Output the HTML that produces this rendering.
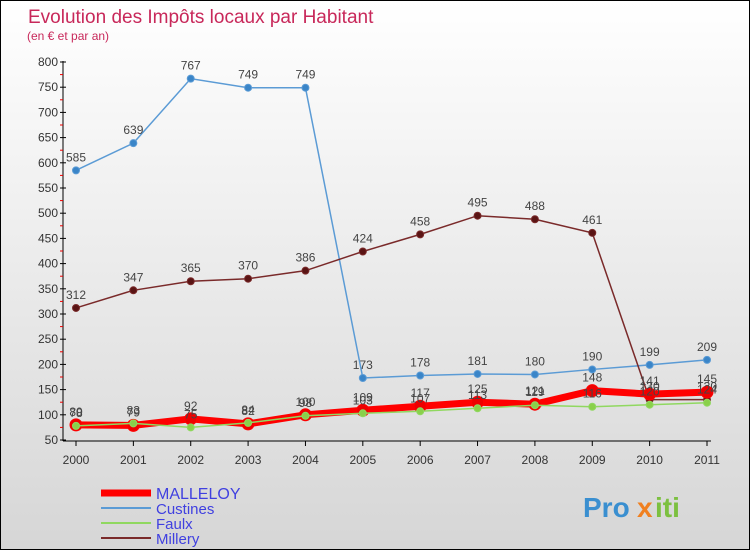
<!DOCTYPE html>
<html><head><meta charset="utf-8"><style>
body{margin:0}
#c{width:748px;height:548px;border:1px solid #000;position:relative;background:linear-gradient(#fff,#d6d6d6);font-family:"Liberation Sans",sans-serif;overflow:hidden}
</style></head><body>
<div id="c">
<svg id="s" width="748" height="548"></svg>
</div>
<script>
const years=[2000,2001,2002,2003,2004,2005,2006,2007,2008,2009,2010,2011];
const malleloy=[80,79,92,82,100,109,117,125,121,148,141,145];
const custines=[585,639,767,749,749,173,178,181,180,190,199,209];
const faulx=[78,83,75,84,98,103,107,113,119,116,120,124];
const millery=[312,347,365,370,386,424,458,495,488,461,130,130];
const yTicks=[50,100,150,200,250,300,350,400,450,500,550,600,650,700,750,800];
const NS='http://www.w3.org/2000/svg';
const s=document.getElementById('s');
const X=i=>75+i*(631/11);
const Y=v=>439-(v-50)*378/750;
function el(t,a,txt){const e=document.createElementNS(NS,t);for(const k in a)e.setAttribute(k,a[k]);if(txt!==undefined)e.textContent=txt;s.appendChild(e);return e;}
let e;
e=el('text',{x:27,y:22,'font-size':19,fill:'#c8285a'},'Evolution des Impôts locaux par Habitant');

e=el('text',{x:26,y:39,'font-size':12,fill:'#c8285a'},'(en € et par an)');

e=el('line',{x1:62,y1:60,x2:62,y2:440,stroke:'#000'});

e=el('line',{x1:62,y1:440,x2:710,y2:440,stroke:'#000'});

yTicks.forEach(v=>{
  e=el('line',{x1:59,y1:Y(v),x2:65,y2:Y(v),stroke:'#000'});
  
  e=el('text',{x:57,y:Y(v)+4,'font-size':12,fill:'#333','text-anchor':'end'},v);
  
  if(v<800){e=el('line',{x1:59,y1:Y(v+25),x2:62,y2:Y(v+25),stroke:'#e00'});
  }
});
years.forEach((y,i)=>{
  e=el('line',{x1:X(i),y1:440,x2:X(i),y2:445,stroke:'#000'});
  
  e=el('text',{x:X(i),y:463,'font-size':12,fill:'#333','text-anchor':'middle'},y);
  
});
function series(d,col,w,r,dotFill,name){
  e=el('polyline',{points:d.map((v,i)=>X(i)+','+Y(v)).join(' '),fill:'none',stroke:col,'stroke-width':w});
  
  d.forEach((v,i)=>{
    e=el('circle',{cx:X(i),cy:Y(v),r:r,fill:dotFill,stroke:col});
    
    e=el('text',{x:X(i),y:Y(v)-9,'font-size':12,fill:'#444','text-anchor':'middle'},v);
    
  });
}
series(custines,'#5b9bd5',1.5,3.5,'#3a85c8','custines');
series(millery,'#7a2a2a',1.5,3.5,'#5a1414','millery');
series(malleloy,'#f00',7,6,'#e00','malleloy');
series(faulx,'#90d860',1.5,3.5,'#8ad04a','faulx');
const leg=[['MALLELOY','#f00',7],['Custines','#5b9bd5',2],['Faulx','#90d860',2],['Millery','#7a2a2a',2]];
leg.forEach((l,i)=>{
  const y=492+i*15;
  e=el('line',{x1:100,y1:y,x2:150,y2:y,stroke:l[1],'stroke-width':l[2]});
  
  e=el('text',{x:155,y:y+6,'font-size':i==0?16:15,fill:'#4040e0'},l[0]);
  
});
e=el('text',{x:582,y:516,'font-size':28,'font-weight':'bold',fill:'#3a8fd0'},'Pro');

e=el('text',{x:636,y:516,'font-size':28,'font-weight':'bold',fill:'#f08020'},'x');

e=el('text',{x:654,y:516,'font-size':28,'font-weight':'bold',fill:'#7cc040'},'iti');

</script>
</body></html>
